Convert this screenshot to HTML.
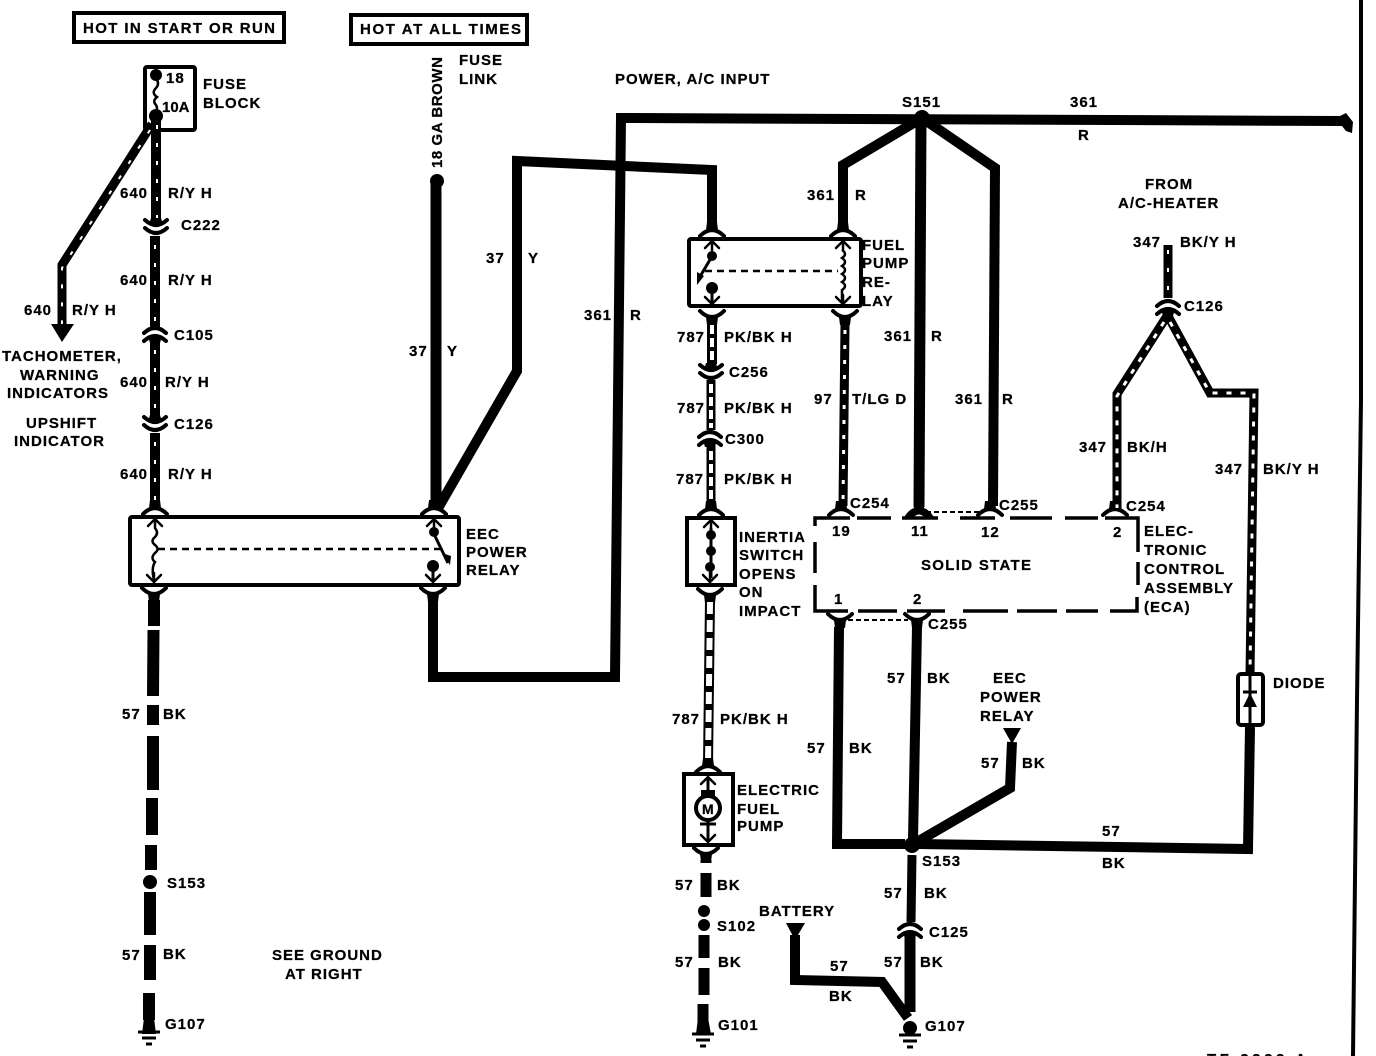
<!DOCTYPE html>
<html><head><meta charset="utf-8"><style>
html,body{margin:0;padding:0;background:#fff;overflow:hidden}
svg{display:block}
text{font-family:"Liberation Sans",sans-serif;font-size:15px;font-weight:bold;fill:#000;letter-spacing:1px;stroke:#000;stroke-width:.25}
.w{fill:none;stroke:#000;stroke-linejoin:miter;stroke-linecap:butt}
.t{fill:none;stroke:#fff;stroke-width:2;stroke-dasharray:4 14}
.b{fill:none;stroke:#000;stroke-width:4}
.d{fill:none;stroke:#000;stroke-width:2.5;stroke-dasharray:7 5}
.c{fill:none;stroke:#000;stroke-width:4;stroke-linecap:round}
.g{stroke:#000;stroke-width:3}
</style></head><body>
<svg width="1376" height="1056" viewBox="0 0 1376 1056" xmlns="http://www.w3.org/2000/svg">
<defs>
<g id="cu"><path class="c" d="M-12,4 Q0,-8 12,4"/><path d="M-6,-2 L6,-2 L5,-10 L-5,-10Z"/></g>
<g id="cd"><path class="c" d="M-12,-4 Q0,8 12,-4"/><path d="M-6,2 L6,2 L5,10 L-5,10Z"/></g>
<g id="cn"><path class="c" d="M-11,-7 Q0,3 11,-7"/><path d="M-5,-9 H5 L7,-2 H-7Z"/><path class="c" d="M-11,1 Q0,11 11,1"/></g>
<g id="ca"><path class="c" d="M-11,-1 Q0,-11 11,-1"/><path class="c" d="M-11,7 Q0,-3 11,7"/><path d="M-7,2 H7 L5,9 H-5Z"/></g>
<g id="arr"><path class="c" style="stroke-width:2.5" d="M-7,7 L0,0 L7,7 M0,0 V9"/></g>
<g id="ard"><path class="c" style="stroke-width:2.5" d="M-7,-7 L0,0 L7,-7 M0,0 V-9"/></g>
<g id="gnd"><path class="g" d="M-11,0 H11 M-7,6 H7 M-3,12 H3"/></g>
</defs>

<!-- right border and bottom code -->
<path class="w" stroke-width="4" d="M1361,0 V400 L1357,700 L1353,1056"/>
<text x="1207" y="1064" textLength="100">TF 2222 A</text>

<!-- top label boxes -->
<rect x="74" y="13" width="210" height="29" class="b"/>
<rect x="351" y="15" width="176" height="29" class="b"/>
<text x="83" y="33" textLength="193">HOT IN START OR RUN</text>
<text x="360" y="34" textLength="162">HOT AT ALL TIMES</text>

<!-- fuse -->
<rect x="145" y="67" width="50" height="63" class="b" rx="2"/>
<circle cx="156" cy="75" r="6"/><circle cx="156" cy="116" r="7"/>
<path class="w" stroke-width="2.5" d="M156,78 q4,6 0,10 q-5,5 1,9 q-5,4 -1,8 q2,3 0,8" />
<text x="166" y="83">18</text><text x="162" y="112" style="letter-spacing:0">10A</text>
<text x="203" y="89">FUSE</text><text x="203" y="108">BLOCK</text>

<!-- 640 wires -->
<path class="w" stroke-width="10" d="M156,118 V222"/><path class="t" d="M157,125 V218"/>
<use href="#cn" x="156" y="227"/>
<path class="w" stroke-width="10" d="M155,236 V330"/><path class="t" d="M155,245 V325"/>
<use href="#ca" x="155" y="334"/>
<path class="w" stroke-width="10" d="M155,340 V420"/><path class="t" d="M155,350 V415"/>
<use href="#cn" x="155" y="424"/>
<path class="w" stroke-width="10" d="M155,433 V505"/><path class="t" d="M155,442 V503"/>
<path class="w" stroke-width="9" d="M152,124 L62,265 V326"/><path class="t" d="M150,130 L62,268 V325"/>
<path d="M51,324 H74 L62,342Z"/>
<text x="120" y="198">640</text><text x="168" y="198">R/Y H</text>
<text x="181" y="230">C222</text>
<text x="120" y="285">640</text><text x="168" y="285">R/Y H</text>
<text x="174" y="340">C105</text>
<text x="120" y="387">640</text><text x="165" y="387">R/Y H</text>
<text x="174" y="429">C126</text>
<text x="120" y="479">640</text><text x="168" y="479">R/Y H</text>
<text x="24" y="315">640</text><text x="72" y="315">R/Y H</text>
<text x="2" y="361">TACHOMETER,</text>
<text x="20" y="380">WARNING</text>
<text x="7" y="398">INDICATORS</text>
<text x="26" y="428">UPSHIFT</text>
<text x="14" y="446">INDICATOR</text>

<!-- EEC relay -->
<rect x="130" y="517" width="329" height="68" class="b" rx="2"/>
<use href="#cu" x="155" y="510"/><use href="#cu" x="434" y="510"/>
<use href="#arr" x="155" y="519"/><use href="#arr" x="434" y="519"/>
<use href="#cd" x="154" y="592"/><use href="#cd" x="433" y="592"/>
<use href="#ard" x="154" y="582"/><use href="#ard" x="433" y="582"/>
<path class="w" stroke-width="2.5" d="M155,528 q4,5 0,9 q-5,4 0,8 q5,4 0,8 q-5,5 0,9 q-4,6 -1,18"/>
<path class="d" d="M158,549 H440"/>
<circle cx="434" cy="532" r="5"/><path class="w" stroke-width="3" d="M434,534 L448,563"/><path d="M442,553 L451,556 L450,565Z"/>
<circle cx="433" cy="566" r="6"/><path class="w" stroke-width="3" d="M433,570 V582"/>
<text x="466" y="539">EEC</text><text x="466" y="557">POWER</text><text x="466" y="575">RELAY</text>

<!-- 57 BK left -->
<path class="w" stroke-width="12" d="M154,600 V626"/>
<path class="w" stroke-width="12" d="M153.500,630 L153,696 M153,705 V725 M153,736 V790 M152,798 V835 M151,845 V870"/>
<circle cx="150" cy="882" r="7"/>
<path class="w" stroke-width="12" d="M150,892 V935 M150,945 V980 M149,993 V1020"/>
<path d="M144,1018 H154 L156,1034 H142Z"/>
<use href="#gnd" x="149" y="1032"/>
<text x="122" y="719">57</text><text x="163" y="719">BK</text>
<text x="167" y="888">S153</text>
<text x="122" y="960">57</text><text x="163" y="959">BK</text>
<text x="165" y="1029">G107</text>
<text x="272" y="960">SEE GROUND</text><text x="285" y="979">AT RIGHT</text>

<!-- 37 Y -->
<circle cx="437" cy="181" r="7"/>
<text transform="translate(442,168) rotate(-90)" textLength="112">18 GA BROWN</text>
<text x="459" y="65">FUSE</text><text x="459" y="84">LINK</text>
<path class="w" stroke-width="11" d="M436,181 V505"/>
<path class="w" stroke-width="10" d="M437,510 L517,371 V161 L712,170 V226"/>
<text x="409" y="356">37</text><text x="447" y="356">Y</text>
<text x="486" y="263">37</text><text x="528" y="263">Y</text>

<!-- 361 -->
<path class="w" stroke-width="10" d="M433,596 V677 H615 L621,118 L1345,121"/>
<path d="M1340,116 L1346,113 L1353,122 L1352,133 L1346,131 L1342,126Z"/>
<text x="584" y="320">361</text><text x="630" y="320">R</text>
<text x="615" y="84">POWER, A/C INPUT</text>
<text x="902" y="107">S151</text>
<text x="1070" y="107">361</text><text x="1078" y="140">R</text>
<circle cx="922" cy="118" r="8"/>
<path class="w" stroke-width="10" d="M843,226 V165 L922,118 L995,168 L993,506"/>
<path class="w" stroke-width="11" d="M921,118 L919,507"/>
<text x="807" y="200">361</text><text x="855" y="200">R</text>
<text x="884" y="341">361</text><text x="931" y="341">R</text>
<text x="955" y="404">361</text><text x="1002" y="404">R</text>

<!-- fuel pump relay -->
<rect x="689" y="239" width="172" height="67" class="b" rx="2"/>
<use href="#cu" x="712" y="232"/><use href="#cu" x="843" y="232"/>
<use href="#arr" x="712" y="241"/><use href="#arr" x="843" y="241"/>
<use href="#ard" x="712" y="304"/><use href="#ard" x="843" y="304"/>
<use href="#cd" x="712" y="315"/><use href="#cd" x="845" y="315"/>
<circle cx="712" cy="256" r="5"/><path class="w" stroke-width="3" d="M711,258 L698,280"/><path d="M697,272 L704,276 L697,285Z"/>
<circle cx="712" cy="288" r="6"/><path class="w" stroke-width="3" d="M712,292 V304"/>
<path class="d" d="M705,271 H838"/>
<path class="w" stroke-width="2.5" d="M842,250 q6,4 0,8 q6,4 0,8 q6,4 0,8 q6,4 0,8 q6,4 0,8 V303"/>
<text x="862" y="250">FUEL</text><text x="862" y="268">PUMP</text><text x="862" y="287">RE-</text><text x="862" y="306">LAY</text>

<!-- 97 -->
<path class="w" stroke-width="9" d="M845,325 L843,506"/><path class="t" d="M845,330 L843,504" style="stroke-width:3;stroke-dasharray:4 11"/>
<text x="814" y="404">97</text><text x="852" y="404">T/LG D</text>

<!-- 787 -->
<path class="w" stroke-width="10" d="M712,323 V364"/><path fill="none" stroke="#fff" stroke-width="4" stroke-dasharray="9 4" d="M712,325 V362"/>
<use href="#cn" x="711" y="372"/>
<path class="w" stroke-width="9" d="M711,380 V430"/><path fill="none" stroke="#fff" stroke-width="4" stroke-dasharray="9 4" d="M711,384 V428"/>
<use href="#ca" x="710" y="438"/>
<path class="w" stroke-width="9" d="M711,445 V505"/><path fill="none" stroke="#fff" stroke-width="4" stroke-dasharray="9 4" d="M711,451 V503"/>
<text x="677" y="342">787</text><text x="724" y="342">PK/BK H</text>
<text x="729" y="377">C256</text>
<text x="677" y="413">787</text><text x="724" y="413">PK/BK H</text>
<text x="725" y="444">C300</text>
<text x="676" y="484">787</text><text x="724" y="484">PK/BK H</text>

<!-- inertia -->
<rect x="687" y="518" width="48" height="67" class="b"/>
<use href="#cu" x="711" y="511"/><use href="#arr" x="711" y="520"/>
<circle cx="711" cy="535" r="5"/><circle cx="711" cy="551" r="5"/><circle cx="710" cy="567" r="5"/>
<path class="w" stroke-width="3" d="M711,528 V578"/><use href="#ard" x="710" y="582"/>
<use href="#cd" x="710" y="593"/>
<text x="739" y="542">INERTIA</text><text x="739" y="560">SWITCH</text><text x="739" y="579">OPENS</text><text x="739" y="597">ON</text><text x="739" y="616">IMPACT</text>

<path class="w" stroke-width="10" d="M710,600 L708,765"/>
<path fill="none" stroke="#fff" stroke-width="6" stroke-dasharray="12 6" d="M710,602 L708,765"/>
<text x="672" y="724">787</text><text x="720" y="724">PK/BK H</text>

<!-- pump -->
<rect x="684" y="774" width="49" height="71" class="b"/>
<use href="#cu" x="708" y="768"/><use href="#arr" x="708" y="777"/>
<circle cx="708" cy="808" r="12" class="b"/>
<path d="M701,790 H715 V796 H701Z"/>
<text x="702" y="814" style="font-size:14px;letter-spacing:0">M</text>
<path class="w" stroke-width="3" d="M708,778 V790 M708,820 V842 M700,824 H716"/>
<use href="#ard" x="708" y="842"/>
<use href="#cd" x="706" y="852"/>
<text x="737" y="795">ELECTRIC</text><text x="737" y="814">FUEL</text><text x="737" y="831">PUMP</text>

<path class="w" stroke-width="11" d="M706,860 V863 M706,873 V897"/>
<circle cx="704" cy="911" r="6"/><circle cx="704" cy="925" r="6"/>
<path class="w" stroke-width="11" d="M704,935 V958 M704,968 V995 M703,1004 V1022"/>
<path d="M698,1018 H708 L711,1034 H696Z"/>
<use href="#gnd" x="703" y="1034"/>
<text x="675" y="890">57</text><text x="717" y="890">BK</text>
<text x="717" y="931">S102</text>
<text x="675" y="967">57</text><text x="718" y="967">BK</text>
<text x="718" y="1030">G101</text>

<!-- ECA -->
<path class="w" stroke-width="3.500" d="M815,526 V518 H850 M857,518 H891 M902,518 H938 M960,518 H995 M1010,518 H1052 M1065,518 H1098 M1105,518 H1138 V552 M1138,562 V585 M1137,597 V611 H1110 M1098,611 H1066 M1057,611 H1017 M1008,611 H963 M945,611 H907 M897,611 H858 M848,611 H815 V585 M815,573 V542"/>
<use href="#cu" x="841" y="511"/><use href="#cu" x="990" y="511"/><use href="#cu" x="1115" y="511"/>
<path d="M903,519 Q908,510 914,508 V500 H924 V508 Q930,510 935,519 H926 Q919,510 912,519Z"/>
<path class="d" style="stroke-width:2;stroke-dasharray:5 3" d="M926,512 H983"/>
<text x="850" y="508">C254</text><text x="999" y="510">C255</text><text x="1126" y="511">C254</text>
<text x="832" y="536">19</text><text x="911" y="536">11</text><text x="981" y="537">12</text><text x="1113" y="537">2</text>
<text x="921" y="570" textLength="111">SOLID STATE</text>
<text x="834" y="604">1</text><text x="913" y="604">2</text>
<use href="#cd" x="840" y="618"/><use href="#cd" x="917" y="618"/>
<path class="d" style="stroke-width:2;stroke-dasharray:5 3" d="M848,620 H908"/>
<text x="928" y="629">C255</text>
<text x="1144" y="536">ELEC-</text><text x="1144" y="555">TRONIC</text><text x="1144" y="574">CONTROL</text><text x="1144" y="593">ASSEMBLY</text><text x="1144" y="612">(ECA)</text>

<!-- bottom grid -->
<path class="w" stroke-width="10" d="M839,627 L837,844 H905 M917,627 L913,840"/>
<path class="w" stroke-width="10" d="M918,844 L1248,849 L1250,727"/>
<path class="w" stroke-width="10" d="M1012,742 L1010,788 L917,842"/>
<circle cx="912" cy="845" r="8"/>
<path d="M1003,728 H1021 L1012,744Z"/>
<path class="w" stroke-width="9" d="M912,855 L911,922"/>
<use href="#ca" x="910" y="930"/>
<path class="w" stroke-width="11" d="M910,936 V1012"/>
<path class="w" stroke-width="10" d="M795,935 V980 L882,982 L908,1018"/>
<path d="M786,923 H805 L795,940Z"/>
<circle cx="910" cy="1028" r="7"/>
<use href="#gnd" x="910" y="1035"/>
<text x="807" y="753">57</text><text x="849" y="753">BK</text>
<text x="887" y="683">57</text><text x="927" y="683">BK</text>
<text x="981" y="768">57</text><text x="1022" y="768">BK</text>
<text x="993" y="683">EEC</text><text x="980" y="702">POWER</text><text x="980" y="721">RELAY</text>
<text x="1102" y="836">57</text><text x="1102" y="868">BK</text>
<text x="922" y="866">S153</text>
<text x="884" y="898">57</text><text x="924" y="898">BK</text>
<text x="929" y="937">C125</text>
<text x="759" y="916">BATTERY</text>
<text x="830" y="971">57</text><text x="829" y="1001">BK</text>
<text x="884" y="967">57</text><text x="920" y="967">BK</text>
<text x="925" y="1031">G107</text>

<!-- 347 -->
<text x="1145" y="189">FROM</text><text x="1118" y="208">A/C-HEATER</text>
<path class="w" stroke-width="9" d="M1168,245 V298"/><path class="t" d="M1168,250 V294"/>
<text x="1133" y="247">347</text><text x="1180" y="247">BK/Y H</text>
<use href="#ca" x="1168" y="307"/>
<text x="1184" y="311">C126</text>
<path class="w" stroke-width="9" d="M1167,316 L1117,394 V510"/><path class="t" d="M1164,322 L1117,396 V508" style="stroke-width:3;stroke-dasharray:5 9"/>
<path class="w" stroke-width="9" d="M1168,316 L1210,393 H1254 L1250,675"/><path class="t" d="M1170,322 L1210,393 H1254 L1250,672" style="stroke-width:3;stroke-dasharray:5 9"/>
<text x="1079" y="452">347</text><text x="1127" y="452">BK/H</text>
<text x="1215" y="474">347</text><text x="1263" y="474">BK/Y H</text>

<!-- diode -->
<rect x="1238" y="674" width="25" height="51" rx="3" class="b"/>
<path class="w" stroke-width="3" d="M1250,675 V725 M1243,692 H1257"/>
<path d="M1243,707 H1257 L1250,693Z"/>
<text x="1273" y="688">DIODE</text>
</svg>
</body></html>
